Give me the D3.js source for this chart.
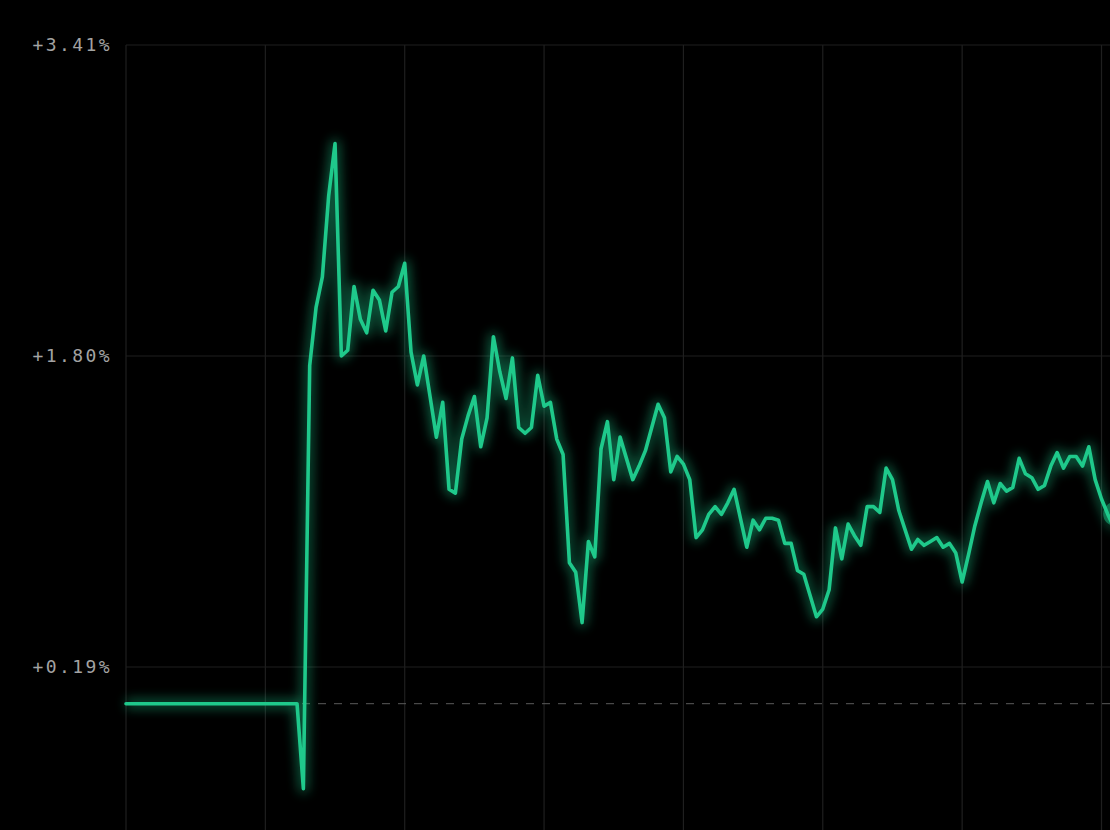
<!DOCTYPE html>
<html>
<head>
<meta charset="utf-8">
<script src="https://cdn.jsdelivr.net/npm/d3@7"></script>
<style>
  html, body { margin: 0; padding: 0; background: #000; overflow: hidden; }
</style>
</head>
<body>
<div id="chart"></div>
<script>
// percent change per step
const values = [
    0, 0, 0, 0, 0, 0, 0, 0, 0, 0,
    0, 0, 0, 0, 0, 0, 0, 0, 0, 0,
    0, 0, 0, 0, 0, 0, 0, 0,
    -0.44, 1.75, 2.05, 2.21, 2.63,
    2.90, 1.80, 1.83, 2.16, 1.99, 1.92, 2.14, 2.09, 1.93, 2.13,
    2.16, 2.28, 1.82, 1.65, 1.80, 1.59, 1.38, 1.56, 1.11, 1.09,
    1.37, 1.49, 1.59, 1.33, 1.48, 1.90, 1.72, 1.58, 1.79, 1.43,
    1.40, 1.43, 1.70, 1.54, 1.56, 1.37, 1.29, 0.73, 0.68, 0.42,
    0.84, 0.76, 1.32, 1.46, 1.16, 1.38, 1.27, 1.16, 1.23, 1.31,
    1.43, 1.55, 1.48, 1.20, 1.28, 1.24, 1.16, 0.86, 0.90, 0.98,
    1.02, 0.98, 1.04, 1.11, 0.96, 0.81, 0.95, 0.90, 0.96, 0.96,
    0.95, 0.83, 0.83, 0.69, 0.67, 0.56, 0.45, 0.49, 0.59, 0.91,
    0.75, 0.93, 0.87, 0.82, 1.02, 1.02, 0.99, 1.22, 1.16, 1.00,
    0.90, 0.80, 0.85, 0.82, 0.84, 0.86, 0.81, 0.83, 0.78, 0.63,
    0.77, 0.92, 1.04, 1.15, 1.04, 1.14, 1.10, 1.12, 1.27, 1.19,
    1.17, 1.11, 1.13, 1.23, 1.30, 1.22, 1.28, 1.28, 1.23, 1.33,
    1.16, 1.06, 0.98, 0.91
];

// y axis ticks (percent) and vertical grid ticks (step index)
const yTicks = [3.41, 1.80, 0.19];
const gridTicks = [0, 22, 44, 66, 88, 110, 132, 154];
const baseline = 0;

let width = 1110,
    height = 830;

let margin = { top: 45, left: 126 };

let svg = d3.select('#chart')
            .append('svg')
            .attr('width', width)
            .attr('height', height)
            .style('background', '#000');

// glow filter for the line
let defs = svg.append('defs');
let glow = defs.append('filter')
            .attr('id', 'glow')
            .attr('x', '-50%').attr('y', '-50%')
            .attr('width', '200%').attr('height', '200%');
glow.append('feGaussianBlur').attr('stdDeviation', 6);

// scales
let xScale = d3.scaleLinear()
            .domain([0, 154])
            .range([margin.left, 1101.5]);

let yScale = d3.scaleLinear()
            .domain([0.19, 3.41])
            .range([667, margin.top]);

// horizontal grid
svg.append('g')
    .selectAll('line')
    .data(yTicks)
    .enter()
    .append('line')
    .attr('x1', margin.left)
    .attr('x2', width)
    .attr('y1', d => yScale(d))
    .attr('y2', d => yScale(d))
    .attr('stroke', '#1f1f1f')
    .attr('stroke-width', 1.2);

// vertical grid
svg.append('g')
    .selectAll('line')
    .data(gridTicks)
    .enter()
    .append('line')
    .attr('x1', d => xScale(d))
    .attr('x2', d => xScale(d))
    .attr('y1', margin.top)
    .attr('y2', height)
    .attr('stroke', '#1f1f1f')
    .attr('stroke-width', 1.2);

// y labels
svg.append('g')
    .selectAll('text')
    .data(yTicks)
    .enter()
    .append('text')
    .attr('x', 112)
    .attr('y', d => yScale(d))
    .attr('dy', '0.36em')
    .attr('text-anchor', 'end')
    .style('font-family', '"DejaVu Sans Mono", monospace')
    .style('font-size', '18px')
    .style('letter-spacing', '2.4px')
    .attr('fill', '#a3a3a3')
    .text(d => '+' + d.toFixed(2) + '%');

// dashed zero line
svg.append('line')
    .attr('x1', margin.left)
    .attr('x2', width)
    .attr('y1', yScale(baseline))
    .attr('y2', yScale(baseline))
    .attr('stroke', '#5a5a5a')
    .attr('stroke-width', 1)
    .attr('stroke-dasharray', '8,8');

let line = d3.line()
            .x((d, i) => xScale(i))
            .y(d => yScale(d));

// soft glow under the line
svg.append('path')
    .datum(values)
    .attr('d', line)
    .attr('fill', 'none')
    .attr('stroke', '#1fc98b')
    .attr('stroke-width', 9)
    .attr('stroke-linejoin', 'round')
    .attr('opacity', 0.45)
    .attr('filter', 'url(#glow)');

// main line
svg.append('path')
    .datum(values)
    .attr('d', line)
    .attr('fill', 'none')
    .attr('stroke', '#1fc98b')
    .attr('stroke-width', 3.6)
    .attr('stroke-linejoin', 'round')
    .attr('stroke-linecap', 'round');

// marker at the last point
let last = values.length - 1;
svg.append('circle')
    .attr('cx', xScale(last) + 1)
    .attr('cy', yScale(values[last]) - 14)
    .attr('r', 12)
    .attr('fill', '#1fc98b')
    .attr('opacity', 0.45);
</script>
</body>
</html>
